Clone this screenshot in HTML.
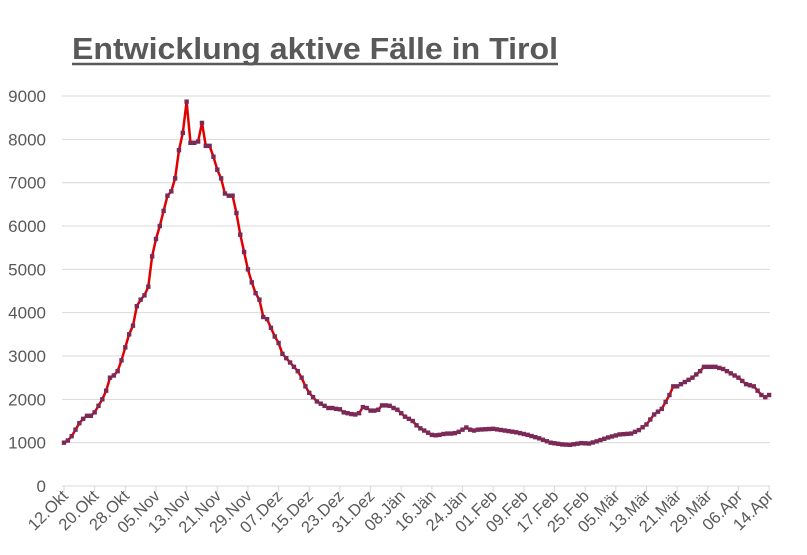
<!DOCTYPE html>
<html><head><style>
body{margin:0;background:#fff;}
svg{display:block;font-family:"Liberation Sans",sans-serif;}
</style></head><body>
<svg width="807" height="555" viewBox="0 0 807 555" xmlns="http://www.w3.org/2000/svg">
<text x="72" y="59" font-size="31" font-weight="bold" fill="#595959" textLength="486" lengthAdjust="spacingAndGlyphs">Entwicklung aktive Fälle in Tirol</text>
<line x1="72" y1="64" x2="558" y2="64" stroke="#595959" stroke-width="2.5"/>
<g id="grid" stroke="#d9d9d9" stroke-width="1"></g>
<g id="ylab" font-size="17" fill="#595959" text-anchor="end"></g>
<g id="xlab" font-size="16.5" fill="#595959" text-anchor="end"></g>
<polyline id="line" fill="none" stroke="#e00000" stroke-width="2.5" stroke-linejoin="round"/>
<g id="mk" fill="#7b2a57"></g>
</svg>
<script>
var ns="http://www.w3.org/2000/svg";
function el(t,a,p,txt){var e=document.createElementNS(ns,t);for(var k in a)e.setAttribute(k,a[k]);if(txt)e.textContent=txt;document.getElementById(p).appendChild(e);return e;}
var X0=64,DX=3.832,Y0=486,SY=43.33/1000;
for(var v=0;v<=9000;v+=1000){var y=Y0-v*SY;el('line',{x1:62,x2:770,y1:y,y2:y},'grid');el('text',{x:46,y:y+6},'ylab',String(v));}
var labs=["12.Okt","20.Okt","28.Okt","05.Nov","13.Nov","21.Nov","29.Nov","07.Dez","15.Dez","23.Dez","31.Dez","08.Jän","16.Jän","24.Jän","01.Feb","09.Feb","17.Feb","25.Feb","05.Mär","13.Mär","21.Mär","29.Mär","06.Apr","14.Apr"];
labs.forEach(function(l,i){var x=X0+i*8*DX;el('line',{x1:x,x2:x,y1:486,y2:492},'grid');el('text',{x:x+5,y:497,transform:'rotate(-45 '+(x+5)+' 497)'},'xlab',l);});
var d0=[1000,1050,1150,1300,1450,1550,1620,1620,1700,1850,2000,2200,2500,2550,2650,2900,3200,3500,3700,4150,4300,4400,4600,5300,5700,6000,6350,6700,6800,7100,7750,8150,8870,7920,7920,7950,8380,7850,7850,7600,7300,7100,6750,6700,6700,6300,5800,5400,5000,4700,4450,4300,3900,3850,3650,3450,3300,3050,2950,2850,2750,2650,2500,2300,2150,2050,1950,1900,1850,1800,1800,1780,1770,1700,1680,1660,1650,1680,1820,1800,1740,1740,1760,1860,1860,1850,1800,1760,1680,1600,1550,1500,1400,1330,1280,1230,1180,1170,1180,1200,1210,1210,1220,1250,1300,1350,1300,1280,1300];
var data=d0.slice();
var kp2=[[108,1300],[112,1320],[115,1280],[118,1240],[121,1180],[124,1100],[127,1000],[130,960],[132,950],[135,990],[137,980],[139,1030],[142,1120],[145,1190],[148,1210],[150,1290],[152,1420],[154,1650],[156,1780],[158,2100],[159,2300],[160,2300],[162,2400],[164,2500],[166,2650],[167,2750],[170,2750],[172,2700],[174,2600],[176,2500],[178,2350],[180,2300],[182,2100],[183,2050],[184,2100]];
for(var d=109;d<=184;d++){for(var j=0;j<kp2.length-1;j++){if(d>=kp2[j][0]&&d<=kp2[j+1][0]){var t=(d-kp2[j][0])/(kp2[j+1][0]-kp2[j][0]);data[d]=kp2[j][1]+t*(kp2[j+1][1]-kp2[j][1]);break;}}}
var pts=[];
data.forEach(function(v,i){var x=X0+i*DX,y=Y0-v*SY;pts.push(x.toFixed(1)+','+y.toFixed(1));el('rect',{x:x-2.2,y:y-2.2,width:4.4,height:4.4},'mk');});
document.getElementById('line').setAttribute('points',pts.join(' '));
</script>
</body></html>
